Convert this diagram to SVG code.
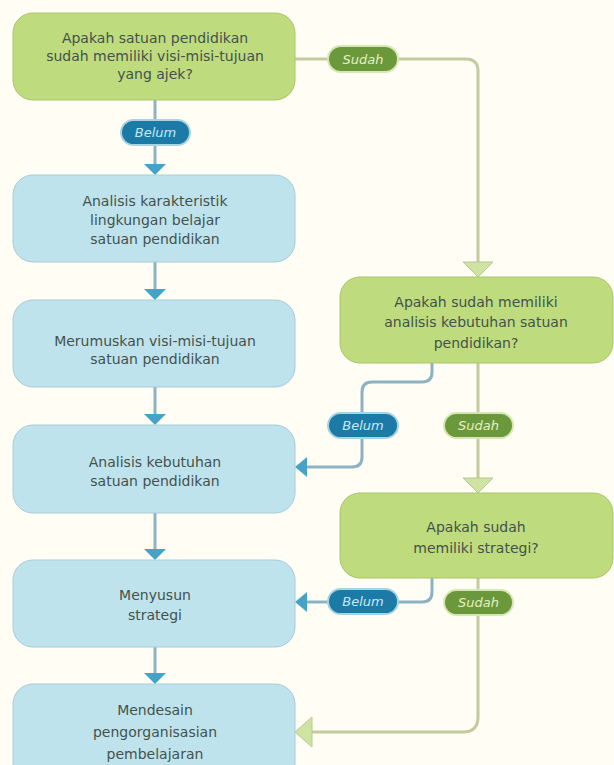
<svg xmlns="http://www.w3.org/2000/svg" width="614" height="765" viewBox="0 0 614 765">
<style>
.bg{fill:#fffdf4}
.q{fill:#bedb7e;stroke:#a8c56c;stroke-width:1}
.s{fill:#bfe3ec;stroke:#a6cdd8;stroke-width:1}
.t{font-family:"DejaVu Sans",sans-serif;font-size:14px;fill:#44524c;text-anchor:middle}
.lb{fill:none;stroke:#8db3c2;stroke-width:3}
.lg{fill:none;stroke:#c3cb9f;stroke-width:3}
.ab{fill:#45a3c8}
.ag{fill:#cfe3a2;stroke:#b8ca8e;stroke-width:1}
.pb{fill:#1c7ba6;stroke:#a9d3e3;stroke-width:2}
.pg{fill:#6b983a;stroke:#d6e6b4;stroke-width:2}
.pt{font-family:"DejaVu Sans",sans-serif;font-size:13px;font-style:italic;text-anchor:middle}
.ptb{fill:#c4e8f6}
.ptg{fill:#e3f1c4}
</style>
<rect class="bg" x="0" y="0" width="614" height="765"/>

<g id="connectors">
  <path class="lb" d="M155,100 V165"/>
  <path class="ab" d="M144,164 H166 L155,175 Z"/>
  <path class="lb" d="M155,262 V290"/>
  <path class="ab" d="M144,289 H166 L155,300 Z"/>
  <path class="lb" d="M155,387 V415"/>
  <path class="ab" d="M144,414 H166 L155,425 Z"/>
  <path class="lb" d="M155,513 V550"/>
  <path class="ab" d="M144,549 H166 L155,560 Z"/>
  <path class="lb" d="M155,647 V674"/>
  <path class="ab" d="M144,673 H166 L155,684 Z"/>

  <path class="lg" d="M295,59 H466 Q478,59 478,71 V262"/>
  <path class="ag" d="M463,262 H493 L478,277 Z"/>

  <path class="lb" d="M432,363 V372 Q432,382 422,382 H372 Q362,382 362,392 V457 Q362,467 352,467 H306"/>
  <path class="ab" d="M307,457 V477 L295,467 Z"/>

  <path class="lg" d="M478,363 V478"/>
  <path class="ag" d="M463,478 H493 L478,493 Z"/>

  <path class="lb" d="M432,578 V592 Q432,602 422,602 H306"/>
  <path class="ab" d="M307,592 V612 L295,602 Z"/>

  <path class="lg" d="M478,578 V717 Q478,732 463,732 H311"/>
  <path class="ag" d="M312,717 V747 L295,732 Z"/>

  <g id="label-sudah-1">
    <rect class="pg" x="328" y="46" width="70" height="26" rx="13"/>
    <text class="pt ptg" x="363" y="64">Sudah</text>
  </g>
  <g id="label-belum-1">
    <rect class="pb" x="121" y="120" width="69" height="25" rx="12.5"/>
    <text class="pt ptb" x="155.5" y="137">Belum</text>
  </g>
  <g id="label-belum-2">
    <rect class="pb" x="328" y="413" width="70" height="25" rx="12.5"/>
    <text class="pt ptb" x="363" y="430">Belum</text>
  </g>
  <g id="label-sudah-2">
    <rect class="pg" x="444" y="413" width="69" height="25" rx="12.5"/>
    <text class="pt ptg" x="478.5" y="430">Sudah</text>
  </g>
  <g id="label-belum-3">
    <rect class="pb" x="328" y="589" width="70" height="25" rx="12.5"/>
    <text class="pt ptb" x="363" y="606">Belum</text>
  </g>
  <g id="label-sudah-3">
    <rect class="pg" x="444" y="590" width="69" height="25" rx="12.5"/>
    <text class="pt ptg" x="478.5" y="607">Sudah</text>
  </g>
</g>

<g id="node-q1">
  <rect class="q" x="13" y="13" width="282" height="87" rx="20"/>
  <text class="t" x="155" y="43">Apakah satuan pendidikan</text>
  <text class="t" x="155" y="61">sudah memiliki visi-misi-tujuan</text>
  <text class="t" x="155" y="79">yang ajek?</text>
</g>
<g id="node-s1">
  <rect class="s" x="13" y="175" width="282" height="87" rx="20"/>
  <text class="t" x="155" y="206">Analisis karakteristik</text>
  <text class="t" x="155" y="225">lingkungan belajar</text>
  <text class="t" x="155" y="244">satuan pendidikan</text>
</g>
<g id="node-s2">
  <rect class="s" x="13" y="300" width="282" height="87" rx="20"/>
  <text class="t" x="155" y="346">Merumuskan visi-misi-tujuan</text>
  <text class="t" x="155" y="364">satuan pendidikan</text>
</g>
<g id="node-s3">
  <rect class="s" x="13" y="425" width="282" height="88" rx="20"/>
  <text class="t" x="155" y="467">Analisis kebutuhan</text>
  <text class="t" x="155" y="486">satuan pendidikan</text>
</g>
<g id="node-s4">
  <rect class="s" x="13" y="560" width="282" height="87" rx="20"/>
  <text class="t" x="155" y="600">Menyusun</text>
  <text class="t" x="155" y="620">strategi</text>
</g>
<g id="node-s5">
  <rect class="s" x="13" y="684" width="282" height="100" rx="20"/>
  <text class="t" x="155" y="715">Mendesain</text>
  <text class="t" x="155" y="737">pengorganisasian</text>
  <text class="t" x="155" y="759">pembelajaran</text>
</g>
<g id="node-q2">
  <rect class="q" x="340" y="277" width="273" height="86" rx="20"/>
  <text class="t" x="476" y="307">Apakah sudah memiliki</text>
  <text class="t" x="476" y="327">analisis kebutuhan satuan</text>
  <text class="t" x="476" y="348">pendidikan?</text>
</g>
<g id="node-q3">
  <rect class="q" x="340" y="493" width="273" height="85" rx="20"/>
  <text class="t" x="476" y="532">Apakah sudah</text>
  <text class="t" x="476" y="553">memiliki strategi?</text>
</g>
</svg>
